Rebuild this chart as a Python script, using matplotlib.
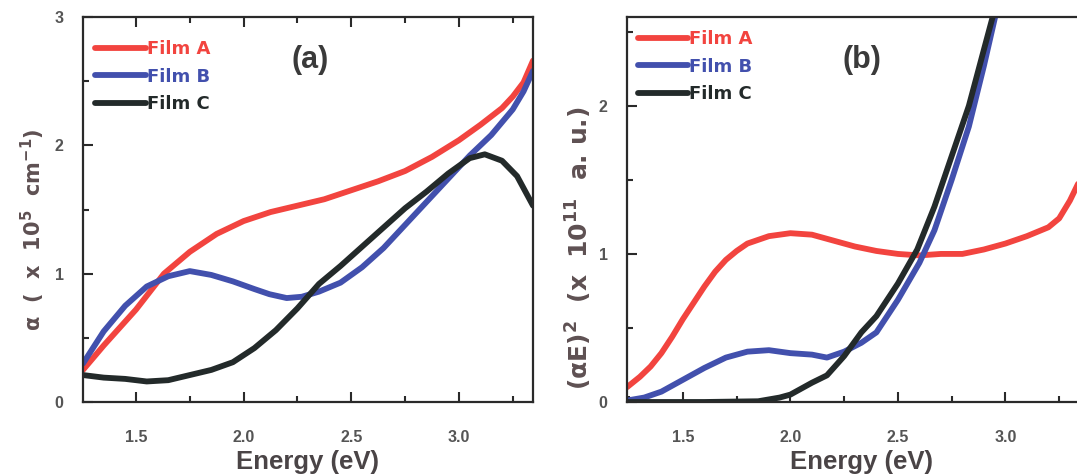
import matplotlib.pyplot as plt
from matplotlib.ticker import MultipleLocator

plt.rcParams['font.family'] = ['Liberation Sans', 'DejaVu Sans']
plt.rcParams['mathtext.fontset'] = 'custom'
plt.rcParams['mathtext.rm'] = 'DejaVu Sans:bold'
plt.rcParams['mathtext.it'] = 'DejaVu Sans:bold'
plt.rcParams['mathtext.bf'] = 'DejaVu Sans:bold'
plt.rcParams['mathtext.default'] = 'rm'

labels = ['Film A', 'Film B', 'Film C']
colors = ['#f2443f', '#4250ad', '#232a2a']

# (a) absorption coefficient, x 10^5 cm^-1
E_a_A = [1.254, 1.35, 1.5, 1.63, 1.75, 1.875, 2.0, 2.125, 2.25, 2.375, 2.5, 2.625,
         2.75, 2.875, 3.0, 3.1, 3.2, 3.25, 3.3, 3.344]
alpha_A = [0.25, 0.44, 0.72, 1.0, 1.17, 1.31, 1.41, 1.48, 1.53, 1.58, 1.65, 1.72,
           1.80, 1.91, 2.04, 2.16, 2.29, 2.38, 2.49, 2.66]
E_a_B = [1.254, 1.35, 1.45, 1.55, 1.65, 1.75, 1.85, 1.95, 2.05, 2.12, 2.2, 2.27,
         2.35, 2.45, 2.55, 2.65, 2.75, 2.85, 2.95, 3.05, 3.15, 3.25, 3.3, 3.344]
alpha_B = [0.30, 0.55, 0.75, 0.90, 0.98, 1.02, 0.99, 0.94, 0.88, 0.84, 0.81, 0.82,
           0.86, 0.93, 1.05, 1.20, 1.38, 1.56, 1.74, 1.92, 2.08, 2.28, 2.42, 2.58]
E_a_C = [1.254, 1.35, 1.45, 1.55, 1.65, 1.75, 1.85, 1.95, 2.05, 2.15, 2.25, 2.35,
         2.45, 2.55, 2.65, 2.75, 2.85, 2.95, 3.05, 3.12, 3.2, 3.27, 3.344]
alpha_C = [0.21, 0.19, 0.18, 0.16, 0.17, 0.21, 0.25, 0.31, 0.42, 0.56, 0.73, 0.92,
           1.06, 1.21, 1.36, 1.51, 1.64, 1.78, 1.90, 1.93, 1.88, 1.76, 1.53]

# (b) Tauc plot, (alpha E)^2 x 10^11
E_b_A = [1.24, 1.3, 1.35, 1.4, 1.45, 1.5, 1.55, 1.6, 1.65, 1.7, 1.75, 1.8, 1.9, 2.0,
         2.1, 2.2, 2.3, 2.4, 2.5, 2.6, 2.7, 2.8, 2.9, 3.0, 3.1, 3.2, 3.25, 3.3, 3.34]
tauc_A = [0.10, 0.17, 0.24, 0.33, 0.44, 0.56, 0.67, 0.78, 0.88, 0.96, 1.02, 1.07,
          1.12, 1.14, 1.13, 1.09, 1.05, 1.02, 1.00, 0.99, 1.00, 1.00, 1.03, 1.07,
          1.12, 1.18, 1.24, 1.36, 1.48]
E_b_B = [1.24, 1.32, 1.4, 1.5, 1.6, 1.7, 1.8, 1.9, 2.0, 2.1, 2.17, 2.25, 2.33,
         2.4, 2.5, 2.6, 2.67, 2.75, 2.83, 2.9, 2.96]
tauc_B = [0.01, 0.03, 0.07, 0.15, 0.23, 0.30, 0.34, 0.35, 0.33, 0.32, 0.30, 0.34,
          0.40, 0.47, 0.69, 0.94, 1.16, 1.50, 1.86, 2.27, 2.65]
E_b_C = [1.24, 1.6, 1.85, 1.95, 2.0, 2.1, 2.17, 2.25, 2.33, 2.4, 2.5, 2.59, 2.67,
         2.75, 2.83, 2.9, 2.95]
tauc_C = [0.0, 0.0, 0.005, 0.03, 0.05, 0.13, 0.18, 0.31, 0.47, 0.58, 0.80, 1.03,
          1.32, 1.66, 2.0, 2.38, 2.65]

fig = plt.figure(figsize=(10.77, 4.76), dpi=100)
W, H = 1077, 476
axa = fig.add_axes([83 / W, (H - 402) / H, 450 / W, 385 / H])
axb = fig.add_axes([627 / W, (H - 402) / H, 470 / W, 385 / H])

for x, y, c, l in zip([E_a_A, E_a_B, E_a_C], [alpha_A, alpha_B, alpha_C], colors, labels):
    axa.plot(x, y, color=c, lw=4.2, label=l, solid_capstyle='round', solid_joinstyle='round')
for x, y, c, l in zip([E_b_A, E_b_B, E_b_C], [tauc_A, tauc_B, tauc_C], colors, labels):
    axb.plot(x, y, color=c, lw=4.2, label=l, solid_capstyle='round', solid_joinstyle='round')

axa.set_xlim(1.254, 3.344)
axa.set_ylim(0, 3)
axb.set_xlim(1.24, 3.426)
axb.set_ylim(0, 2.6)

tick_color = '#555555'
for ax in (axa, axb):
    ax.xaxis.set_major_locator(MultipleLocator(0.5))
    ax.xaxis.set_minor_locator(MultipleLocator(0.25))
    ax.yaxis.set_major_locator(MultipleLocator(1))
    ax.yaxis.set_minor_locator(MultipleLocator(0.5))
    ax.tick_params(which='both', direction='in', colors='#2a2a2a',
                   labelcolor=tick_color, labelsize=11.5, width=1.5)
    ax.tick_params(which='major', length=7)
    ax.tick_params(which='minor', length=4)
    ax.tick_params(axis='x', pad=20)
    ax.tick_params(axis='y', pad=14)
    for lbl in ax.get_xticklabels() + ax.get_yticklabels():
        lbl.set_fontweight('bold')
    for s in ax.spines.values():
        s.set_color('#2a2a2a')
        s.set_linewidth(1.6)
    ax.set_xlabel('Energy (eV)', fontsize=18.5, fontweight='bold', color='#4a4446', labelpad=4)

axa.tick_params(top=True, which='both')
axb.spines['right'].set_visible(False)

axa.set_ylabel(r'α  (  x  10$^5$  cm$^{-1}$)', fontsize=15, fontweight='bold',
               color='#5e5052', family='DejaVu Sans')
axb.set_ylabel(r'($\alpha$E)$^2$  (x  10$^{11}$  a. u.)', fontsize=18, fontweight='bold',
               color='#5e5052', family='DejaVu Sans')
axa.yaxis.set_label_coords(-0.08, 0.447)
axb.yaxis.set_label_coords(-0.07, 0.40)

axa.text(0.504, 0.888, '(a)', transform=axa.transAxes, fontsize=22, fontweight='bold',
         color='#3a3a3a', ha='center', va='center')
axb.text(0.50, 0.888, '(b)', transform=axb.transAxes, fontsize=22, fontweight='bold',
         color='#3a3a3a', ha='center', va='center')

for ax, anchor in ((axa, (-0.009, 0.982)), (axb, (-0.012, 1.008))):
    ax.legend(loc='upper left', bbox_to_anchor=anchor, frameon=False,
              handlelength=2.8, handletextpad=0.05, labelspacing=0.52,
              prop={'family': 'DejaVu Sans', 'size': 13, 'weight': 'bold'},
              labelcolor='linecolor')

fig.savefig('out.png', dpi=100)
